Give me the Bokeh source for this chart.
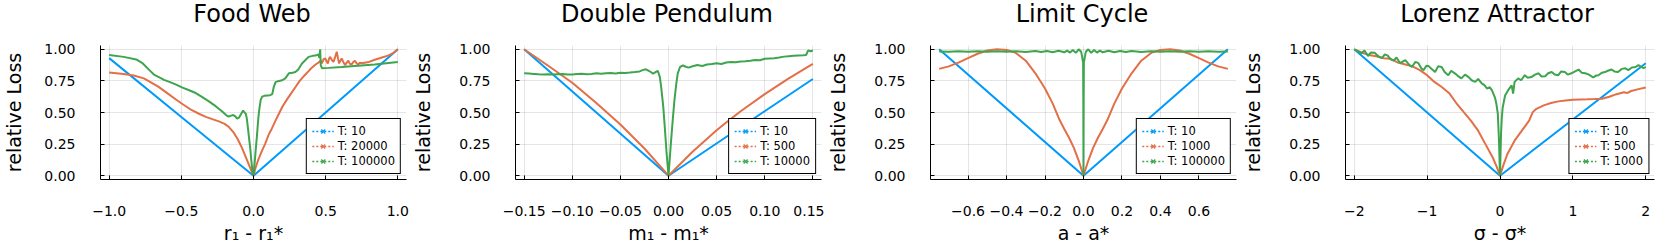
from bokeh.plotting import figure
from bokeh.layouts import row, column
from bokeh.models import Range1d, FixedTicker, Legend, LegendItem, Label
from bokeh.embed import file_html
from bokeh.resources import INLINE

BLUE = "#009AFA"
ORANGE = "#E36F47"
GREEN = "#3EA44E"
FONT = "DejaVu Sans"
M = "\u2212"

# ---------------- data ----------------
titles = ["Food Web", "Double Pendulum", "Limit Cycle", "Lorenz Attractor"]
xlabels = ["r\u2081 - r\u2081*", "m\u2081 - m\u2081*", "a - a*", "\u03c3 - \u03c3*"]
ylabel = "relative Loss"

legend_labels = [
    ["T: 10", "T: 20000", "T: 100000"],
    ["T: 10", "T: 500", "T: 10000"],
    ["T: 10", "T: 1000", "T: 100000"],
    ["T: 10", "T: 500", "T: 1000"],
]

y_ticks = [0.0, 0.25, 0.5, 0.75, 1.0]
y_tick_labels = ["0.00", "0.25", "0.50", "0.75", "1.00"]

fw_x_ticks = [-1.0, -0.5, 0.0, 0.5, 1.0]
fw_x_tick_labels = [M + "1.0", M + "0.5", "0.0", "0.5", "1.0"]
dp_x_ticks = [-0.15, -0.1, -0.05, 0.0, 0.05, 0.1, 0.15]
dp_x_tick_labels = [M + "0.15", M + "0.10", M + "0.05", "0.00", "0.05", "0.10", "0.15"]
lc_x_ticks = [-0.6, -0.4, -0.2, 0.0, 0.2, 0.4, 0.6]
lc_x_tick_labels = [M + "0.6", M + "0.4", M + "0.2", "0.0", "0.2", "0.4", "0.6"]
lz_x_ticks = [-2, -1, 0, 1, 2]
lz_x_tick_labels = [M + "2", M + "1", "0", "1", "2"]

# Food Web (x, relative loss)
fw_t10 = [(-1.0, 0.93), (-0.5, 0.465), (0.0, 0.0), (0.5, 0.5), (1.0, 1.0)]
fw_t20000 = [
    (-1.0, 0.816), (-0.9, 0.805), (-0.83, 0.793), (-0.76, 0.77), (-0.72, 0.745),
    (-0.66, 0.705), (-0.6, 0.655), (-0.54, 0.605), (-0.49, 0.565), (-0.43, 0.52),
    (-0.378, 0.49), (-0.33, 0.465), (-0.286, 0.448), (-0.24, 0.43), (-0.2, 0.41),
    (-0.17, 0.385), (-0.14, 0.345), (-0.11, 0.29), (-0.08, 0.22), (-0.057, 0.157),
    (-0.035, 0.095), (-0.015, 0.04), (0.0, 0.0), (0.015, 0.065), (0.034, 0.13),
    (0.06, 0.2), (0.08, 0.25), (0.107, 0.33), (0.126, 0.37), (0.15, 0.43),
    (0.17, 0.476), (0.2, 0.545), (0.23, 0.6), (0.263, 0.655), (0.29, 0.7),
    (0.32, 0.75), (0.355, 0.795), (0.38, 0.825), (0.4, 0.85), (0.43, 0.88),
    (0.45, 0.895), (0.465, 0.91), (0.474, 0.888), (0.485, 0.92), (0.497, 0.928),
    (0.506, 0.905), (0.515, 0.888), (0.523, 0.925), (0.531, 0.94), (0.543, 0.915),
    (0.554, 0.9), (0.566, 0.94), (0.577, 0.981), (0.585, 0.93), (0.593, 0.888),
    (0.602, 0.91), (0.611, 0.928), (0.622, 0.9), (0.634, 0.875), (0.646, 0.895),
    (0.657, 0.91), (0.668, 0.885), (0.68, 0.88), (0.692, 0.9), (0.703, 0.91),
    (0.714, 0.89), (0.725, 0.88), (0.737, 0.895), (0.748, 0.89), (0.8, 0.9),
    (0.84, 0.917), (0.89, 0.935), (0.932, 0.95), (0.97, 0.972), (1.0, 1.0),
]
fw_t100000 = [
    (-1.0, 0.955), (-0.9, 0.94), (-0.812, 0.92), (-0.767, 0.888), (-0.721, 0.835),
    (-0.69, 0.8), (-0.652, 0.777), (-0.62, 0.758), (-0.583, 0.742), (-0.54, 0.722),
    (-0.492, 0.697), (-0.45, 0.678), (-0.4, 0.654), (-0.36, 0.625), (-0.309, 0.588),
    (-0.26, 0.548), (-0.217, 0.508), (-0.19, 0.48), (-0.172, 0.468), (-0.155, 0.475),
    (-0.14, 0.48), (-0.126, 0.47), (-0.114, 0.452), (-0.1, 0.46), (-0.085, 0.49),
    (-0.072, 0.515), (-0.062, 0.5), (-0.053, 0.489), (-0.046, 0.45), (-0.039, 0.383),
    (-0.031, 0.3), (-0.023, 0.223), (-0.015, 0.12), (-0.007, 0.037), (0.0, 0.0),
    (0.007, 0.09), (0.015, 0.2), (0.023, 0.303), (0.034, 0.463), (0.042, 0.54),
    (0.05, 0.6), (0.06, 0.625), (0.075, 0.632), (0.096, 0.635), (0.115, 0.637),
    (0.13, 0.645), (0.14, 0.7), (0.153, 0.74), (0.17, 0.748), (0.199, 0.755),
    (0.22, 0.77), (0.245, 0.81), (0.27, 0.815), (0.29, 0.82), (0.31, 0.84),
    (0.336, 0.888), (0.36, 0.915), (0.382, 0.94), (0.41, 0.948), (0.428, 0.95),
    (0.44, 0.955), (0.451, 0.96), (0.456, 0.93), (0.462, 1.0), (0.466, 0.875),
    (0.474, 0.85), (0.52, 0.853), (0.611, 0.86), (0.7, 0.868), (0.84, 0.88),
    (0.92, 0.89), (1.0, 0.9),
]

# Double Pendulum
dp_t10 = [(-0.15, 1.0), (-0.075, 0.5), (0.0, 0.0), (0.075, 0.383), (0.15, 0.765)]
dp_t500 = [
    (-0.15, 1.0), (-0.125, 0.87), (-0.1, 0.735), (-0.075, 0.575), (-0.05, 0.405),
    (-0.025, 0.215), (0.0, 0.0), (0.025, 0.19), (0.05, 0.36), (0.0625, 0.436),
    (0.075, 0.51), (0.1, 0.645), (0.125, 0.77), (0.15, 0.885),
]
dp_t10000 = [
    (-0.15, 0.81), (-0.145, 0.808), (-0.14, 0.805), (-0.135, 0.802), (-0.13, 0.8),
    (-0.125, 0.802), (-0.12, 0.8), (-0.115, 0.803), (-0.11, 0.805), (-0.105, 0.801),
    (-0.1, 0.8), (-0.095, 0.804), (-0.09, 0.806), (-0.085, 0.803), (-0.08, 0.805),
    (-0.075, 0.81), (-0.07, 0.807), (-0.065, 0.81), (-0.06, 0.812), (-0.055, 0.809),
    (-0.05, 0.815), (-0.045, 0.813), (-0.04, 0.816), (-0.035, 0.82), (-0.03, 0.825),
    (-0.027, 0.835), (-0.0233, 0.842), (-0.02, 0.828), (-0.016, 0.808), (-0.013, 0.822),
    (-0.011, 0.828), (-0.009, 0.78), (-0.0076, 0.7), (-0.0055, 0.55), (-0.0041, 0.41),
    (-0.002, 0.18), (0.0, 0.0), (0.0027, 0.28), (0.0045, 0.45), (0.0062, 0.6),
    (0.008, 0.72), (0.0096, 0.81), (0.012, 0.86), (0.015, 0.872), (0.018, 0.862),
    (0.021, 0.855), (0.025, 0.866), (0.03, 0.876), (0.035, 0.868), (0.04, 0.88),
    (0.045, 0.884), (0.05, 0.89), (0.055, 0.884), (0.06, 0.895), (0.065, 0.9),
    (0.07, 0.897), (0.075, 0.903), (0.08, 0.906), (0.085, 0.91), (0.09, 0.915),
    (0.095, 0.913), (0.1, 0.925), (0.105, 0.928), (0.11, 0.93), (0.115, 0.935),
    (0.12, 0.942), (0.125, 0.945), (0.13, 0.948), (0.135, 0.95), (0.14, 0.952),
    (0.143, 0.955), (0.145, 0.99), (0.148, 0.985), (0.15, 0.99),
]

# Limit Cycle
lc_t10 = [(-0.75, 1.0), (0.0, 0.0), (0.75, 1.0)]
lc_t1000 = [
    (-0.75, 0.845), (-0.7, 0.865), (-0.65, 0.895), (-0.6, 0.93), (-0.55, 0.965),
    (-0.5, 0.99), (-0.45, 1.0), (-0.4, 0.995), (-0.355, 0.975), (-0.3, 0.91),
    (-0.25, 0.81), (-0.2, 0.69), (-0.16, 0.57), (-0.124, 0.44), (-0.1, 0.37),
    (-0.075, 0.3), (-0.05, 0.22), (-0.025, 0.12), (0.0, 0.0), (0.025, 0.12),
    (0.05, 0.22), (0.075, 0.3), (0.1, 0.37), (0.124, 0.44), (0.16, 0.57),
    (0.2, 0.69), (0.25, 0.81), (0.3, 0.91), (0.355, 0.975), (0.4, 0.995),
    (0.45, 1.0), (0.5, 0.99), (0.55, 0.965), (0.6, 0.93), (0.65, 0.895),
    (0.7, 0.865), (0.75, 0.845),
]
lc_t100000 = [
    (-0.75, 0.982), (-0.7, 0.98), (-0.65, 0.984), (-0.6, 0.98), (-0.55, 0.985),
    (-0.5, 0.981), (-0.45, 0.984), (-0.4, 0.98), (-0.35, 0.985), (-0.3, 0.979),
    (-0.25, 0.986), (-0.22, 0.978), (-0.19, 0.987), (-0.16, 0.977), (-0.13, 0.988),
    (-0.1, 0.976), (-0.085, 0.99), (-0.07, 0.974), (-0.055, 0.995), (-0.04, 0.972),
    (-0.025, 1.0), (-0.012, 0.98), (-0.007, 0.94), (-0.004, 0.91), (-0.002, 0.9),
    (-0.001, 0.6), (0.0, 0.0), (0.001, 0.6), (0.002, 0.9), (0.004, 0.91),
    (0.007, 0.94), (0.012, 0.98), (0.025, 1.0), (0.04, 0.972), (0.055, 0.995),
    (0.07, 0.974), (0.085, 0.99), (0.1, 0.976), (0.13, 0.988), (0.16, 0.977),
    (0.19, 0.987), (0.22, 0.978), (0.25, 0.986), (0.3, 0.979), (0.35, 0.985),
    (0.4, 0.98), (0.45, 0.984), (0.5, 0.981), (0.55, 0.985), (0.6, 0.98),
    (0.65, 0.984), (0.7, 0.98), (0.75, 0.982),
]

# Lorenz Attractor
lz_t10 = [(-2.0, 1.0), (0.0, 0.0), (2.0, 0.89)]
lz_t500 = [
    (-2.0, 1.0), (-1.9, 0.975), (-1.8, 0.955), (-1.7, 0.945), (-1.6, 0.93),
    (-1.5, 0.925), (-1.4, 0.895), (-1.3, 0.88), (-1.2, 0.865), (-1.1, 0.835),
    (-1.05, 0.815), (-1.0, 0.795), (-0.9, 0.742), (-0.8, 0.702), (-0.7, 0.655),
    (-0.6, 0.575), (-0.5, 0.505), (-0.4, 0.436), (-0.3, 0.356), (-0.2, 0.25),
    (-0.1, 0.144), (-0.05, 0.077), (0.0, 0.0), (0.05, 0.09), (0.1, 0.17),
    (0.2, 0.277), (0.3, 0.356), (0.4, 0.436), (0.45, 0.503), (0.5, 0.529),
    (0.6, 0.556), (0.7, 0.575), (0.8, 0.588), (0.9, 0.595), (1.0, 0.601),
    (1.1, 0.603), (1.2, 0.604), (1.3, 0.606), (1.4, 0.609), (1.5, 0.625),
    (1.6, 0.645), (1.7, 0.66), (1.75, 0.655), (1.8, 0.67), (1.9, 0.685), (2.0, 0.697),
]
lz_t1000 = [
    (-2.0, 1.0), (-1.95, 0.985), (-1.9, 0.968), (-1.86, 0.99), (-1.81, 0.947),
    (-1.77, 0.975), (-1.72, 0.973), (-1.67, 0.945), (-1.62, 0.93), (-1.58, 0.96),
    (-1.54, 0.95), (-1.5, 0.92), (-1.46, 0.91), (-1.42, 0.935), (-1.37, 0.89),
    (-1.33, 0.905), (-1.3, 0.915), (-1.25, 0.88), (-1.21, 0.86), (-1.16, 0.9),
    (-1.12, 0.89), (-1.08, 0.85), (-1.05, 0.835), (-1.01, 0.87), (-0.98, 0.867),
    (-0.93, 0.84), (-0.89, 0.82), (-0.85, 0.865), (-0.8, 0.86), (-0.76, 0.82),
    (-0.71, 0.795), (-0.67, 0.83), (-0.62, 0.81), (-0.58, 0.79), (-0.53, 0.77),
    (-0.48, 0.8), (-0.43, 0.78), (-0.39, 0.755), (-0.34, 0.742), (-0.3, 0.765),
    (-0.25, 0.73), (-0.21, 0.715), (-0.18, 0.69), (-0.14, 0.7), (-0.11, 0.675),
    (-0.07, 0.62), (-0.05, 0.57), (-0.03, 0.49), (-0.014, 0.28), (0.0, 0.0),
    (0.014, 0.33), (0.025, 0.46), (0.037, 0.54), (0.07, 0.635), (0.11, 0.675),
    (0.16, 0.715), (0.18, 0.65), (0.2, 0.742), (0.25, 0.77), (0.29, 0.755),
    (0.34, 0.795), (0.38, 0.775), (0.43, 0.78), (0.48, 0.8), (0.53, 0.81),
    (0.57, 0.785), (0.62, 0.787), (0.66, 0.81), (0.71, 0.82), (0.75, 0.8),
    (0.8, 0.795), (0.84, 0.825), (0.89, 0.82), (0.93, 0.8), (0.98, 0.81),
    (1.03, 0.825), (1.08, 0.84), (1.12, 0.815), (1.17, 0.81), (1.22, 0.8),
    (1.28, 0.777), (1.31, 0.79), (1.35, 0.795), (1.4, 0.815), (1.44, 0.82),
    (1.48, 0.83), (1.53, 0.84), (1.57, 0.825), (1.62, 0.82), (1.67, 0.845),
    (1.72, 0.85), (1.76, 0.835), (1.81, 0.856), (1.86, 0.86), (1.9, 0.875),
    (1.94, 0.86), (1.97, 0.85), (2.0, 0.86),
]

panels = [
    ([fw_t10, fw_t20000, fw_t100000], fw_x_ticks, fw_x_tick_labels),
    ([dp_t10, dp_t500, dp_t10000], dp_x_ticks, dp_x_tick_labels),
    ([lc_t10, lc_t1000, lc_t100000], lc_x_ticks, lc_x_tick_labels),
    ([lz_t10, lz_t500, lz_t1000], lz_x_ticks, lz_x_tick_labels),
]
colors = [BLUE, ORANGE, GREEN]

# ---------------- layout (pixels) ----------------
TOTAL_W = 1661
TITLE_H = 40
PLOT_H = 209
TOP, BOTTOM = 5, 70
FRAME_W = 309
fig_widths = [409, 415, 415, 422]
border_left = [97, 103, 103, 103]
border_right = [3, 3, 3, 7]
ylabel_standoff = [16, 22, 22, 22]

# title strip: one blank figure holding the four panel titles
tfig = figure(width=TOTAL_W, height=TITLE_H, output_backend="svg", toolbar_location=None,
              x_axis_type=None, y_axis_type=None, min_border=0,
              x_range=Range1d(0, 1), y_range=Range1d(0, 1))
tfig.outline_line_color = None
tfig.grid.visible = False
tfig.background_fill_color = "white"
tfig.border_fill_color = "white"
x0 = 0
for i in range(4):
    cx = x0 + border_left[i] + FRAME_W / 2
    tfig.add_layout(Label(x=cx, y=TITLE_H - 13.8, x_units="screen", y_units="screen",
                          text=titles[i], text_align="center", text_baseline="alphabetic",
                          text_font=FONT, text_font_size="24px", text_color="black"))
    x0 += fig_widths[i]

figs = []
for i, (series, xt, xtl) in enumerate(panels):
    xs_all = [pt[0] for s in series for pt in s]
    lo, hi = min(xs_all), max(xs_all)
    pad = 0.03 * (hi - lo)
    p = figure(width=fig_widths[i], height=PLOT_H, output_backend="svg",
               toolbar_location=None,
               x_range=Range1d(lo - pad, hi + pad), y_range=Range1d(-0.03, 1.03),
               min_border_left=border_left[i], min_border_right=border_right[i],
               min_border_top=TOP, min_border_bottom=BOTTOM)
    p.outline_line_color = None
    p.background_fill_color = "white"
    p.border_fill_color = "white"

    p.xaxis.ticker = FixedTicker(ticks=xt)
    p.xaxis.major_label_overrides = {float(t): s for t, s in zip(xt, xtl)}
    p.yaxis.ticker = FixedTicker(ticks=y_ticks)
    p.yaxis.major_label_overrides = {float(t): s for t, s in zip(y_ticks, y_tick_labels)}
    p.xaxis.axis_label = xlabels[i]
    p.yaxis.axis_label = ylabel

    for ax in (p.xaxis[0], p.yaxis[0]):
        ax.major_tick_in = 4
        ax.major_tick_out = 0
        ax.minor_tick_line_color = None
        ax.axis_line_color = "black"
        ax.axis_line_width = 1
        ax.major_tick_line_color = "black"
        ax.major_label_text_font = FONT
        ax.major_label_text_font_size = "14px"
        ax.major_label_text_color = "black"
        ax.axis_label_text_font = FONT
        ax.axis_label_text_font_size = "19px"
        ax.axis_label_text_font_style = "normal"
        ax.axis_label_text_color = "black"
    p.xaxis.major_label_standoff = 26
    p.xaxis.axis_label_standoff = 3
    p.yaxis.major_label_standoff = 25
    p.yaxis.axis_label_standoff = ylabel_standoff[i]

    p.grid.grid_line_color = "black"
    p.grid.grid_line_alpha = 0.1
    p.grid.grid_line_width = 1

    items = []
    for s, c, lab in zip(series, colors, legend_labels[i]):
        xs = [pt[0] for pt in s]
        ys = [pt[1] for pt in s]
        p.line(xs, ys, line_color=c, line_width=2)
        # legend-only glyphs (hidden in the plot area)
        lp = p.line(xs, ys, line_color=c, line_width=1.5, line_dash="2 2", visible=False)
        sp = p.scatter(xs, ys, marker="x", size=6, line_color=c, line_width=1.3, visible=False)
        items.append(LegendItem(label=lab, renderers=[lp, sp]))
    leg = Legend(items=items, location="bottom_right", margin=5, padding=5,
                 spacing=1, glyph_height=14, label_height=14, glyph_width=22,
                 label_standoff=4, label_text_font=FONT,
                 label_text_font_size="11.5px", label_text_color="black",
                 border_line_color="black", border_line_width=1, border_line_alpha=1.0,
                 background_fill_color="white", background_fill_alpha=1.0,
                 click_policy="none", inactive_fill_alpha=0.0)
    p.add_layout(leg)
    figs.append(p)

layout = column(tfig, row(*figs))
open("out.html", "w").write(file_html(layout, INLINE))
